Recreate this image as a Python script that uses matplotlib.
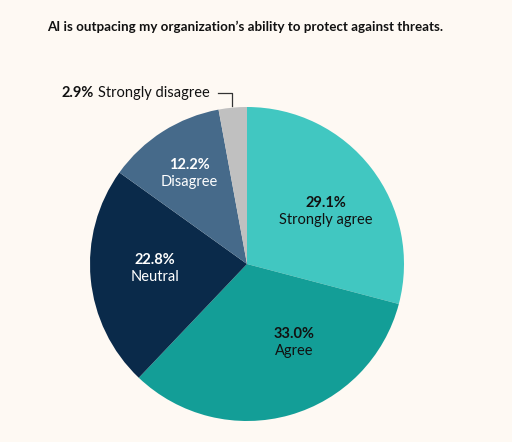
import numpy as np
import matplotlib.pyplot as plt

# data
categories = ['Strongly agree', 'Agree', 'Neutral', 'Disagree', 'Strongly disagree']
shares = [29.1, 33.0, 22.8, 12.2, 2.9]
colors = ['#41C7C1', '#139E97', '#0A2A4A', '#466A8A', '#C0C0C0']
text_colors = ['#111111', '#111111', '#FFFFFF', '#FFFFFF', '#111111']
title = 'AI is outpacing my organization\u2019s ability to protect against threats.'

W, H = 512, 442
bg = '#FEF9F3'
plt.rcParams['font.family'] = ['Lato', 'DejaVu Sans']

fig = plt.figure(figsize=(W / 100, H / 100), dpi=100, facecolor=bg)
ax = fig.add_axes([0, 0, 1, 1])
ax.set_facecolor(bg)

cx, cy, R = 247, H - 264, 157
wedges, _ = ax.pie(shares, colors=colors, startangle=90, counterclock=False,
                   center=(cx, cy), radius=R, frame=True,
                   wedgeprops=dict(linewidth=0))
ax.set_xlim(0, W)
ax.set_ylim(0, H)
ax.set_aspect('equal')
ax.axis('off')

# in-slice labels (pixel positions from the reference)
label_pos = [(326, 212), (294, 343), (155, 269), (189, 174)]
for (x, y), cat, val, tc in zip(label_pos, categories, shares, text_colors):
    ax.text(x, H - y + 9, f'{val:.1f}%', ha='center', va='center',
            fontsize=10.5, fontweight='bold', color=tc)
    ax.text(x, H - y - 8, cat, ha='center', va='center',
            fontsize=10.5, color=tc)

# outside label for the smallest slice
ax.text(94, H - 93, f'{shares[4]:.1f}%', ha='right', va='center',
        fontsize=10.5, fontweight='bold', color='#111111')
ax.text(98, H - 93, categories[4], ha='left', va='center',
        fontsize=10.5, color='#111111')
ax.plot([218, 232, 232], [H - 93, H - 93, H - 106], color='#333333', lw=0.9)

fig.text(47 / W, 1 - 27 / H, title, ha='left', va='center',
         fontsize=9.6, fontweight='bold', color='#111111')

fig.savefig('out.png', dpi=100, facecolor=bg)
